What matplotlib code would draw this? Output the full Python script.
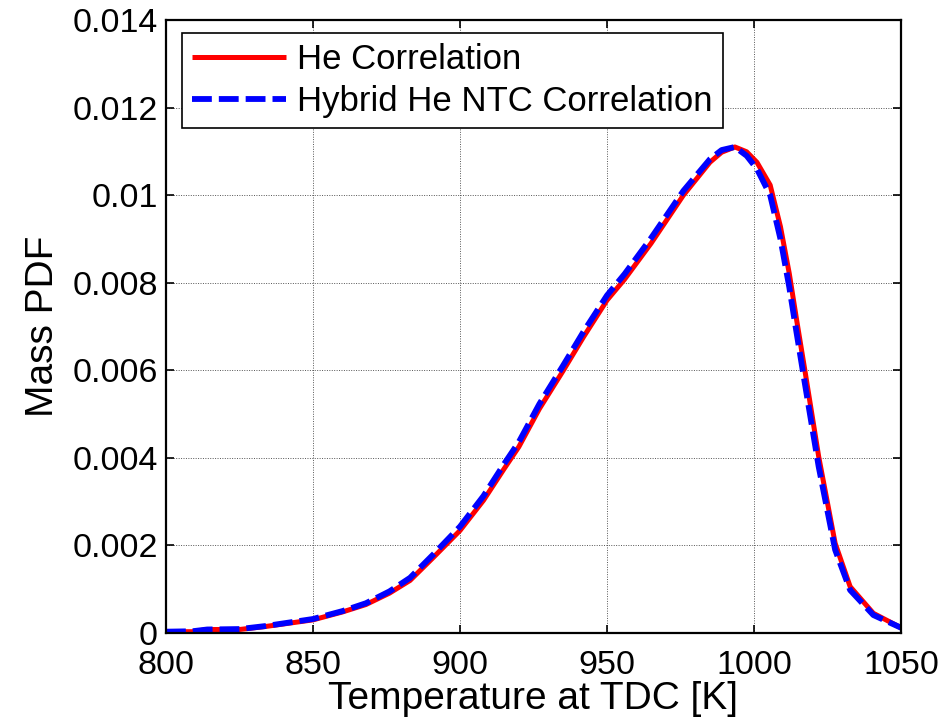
import matplotlib
matplotlib.use("Agg")
import matplotlib.pyplot as plt

temperature = [800, 809, 814, 825, 834, 850, 860, 868, 876, 883, 891, 900, 908, 915,
               920, 927, 935, 942, 950, 956, 965, 976, 985, 989, 993.5, 997.5, 1001,
               1005.5, 1009, 1012, 1014.5, 1017.3, 1022, 1027.6, 1032.7, 1040.6, 1050]
he_corr = [0.00003, 0.00003, 0.00008, 0.00008, 0.00015, 0.00030, 0.00048, 0.00065,
           0.00091, 0.00120, 0.00173, 0.00234, 0.00303, 0.00375, 0.00425, 0.00512,
           0.00598, 0.00676, 0.00760, 0.00808, 0.00890, 0.01000, 0.01075, 0.01098,
           0.01110, 0.01099, 0.01075, 0.01023, 0.00928, 0.00821, 0.00715, 0.00600,
           0.00403, 0.00205, 0.00106, 0.00045, 0.00012]
hybrid_corr = [0.00003, 0.00004, 0.00008, 0.00009, 0.00016, 0.00032, 0.00050, 0.00068,
               0.00095, 0.00126, 0.00180, 0.00243, 0.00313, 0.00386, 0.00436, 0.00523,
               0.00610, 0.00688, 0.00771, 0.00820, 0.00902, 0.01010, 0.01082, 0.01103,
               0.01110, 0.01090, 0.01060, 0.01000, 0.00900, 0.00790, 0.00685, 0.00570,
               0.00380, 0.00190, 0.00098, 0.00041, 0.00012]

x_ticks = [800, 850, 900, 950, 1000, 1050]
y_ticks = [0, 0.002, 0.004, 0.006, 0.008, 0.010, 0.012, 0.014]
y_tick_labels = ["0", "0.002", "0.004", "0.006", "0.008", "0.01", "0.012", "0.014"]
series_labels = ["He Correlation", "Hybrid He NTC Correlation"]

plt.rcParams['font.family'] = ['Liberation Sans', 'DejaVu Sans']

fig = plt.figure(figsize=(9.43, 7.25), dpi=100)
W, H = 943, 725
ax = fig.add_axes([166 / W, 1 - 633 / H, 735 / W, 613 / H])

ax.plot(temperature, he_corr, color='#ff0000', lw=3.6, label=series_labels[0],
        solid_capstyle='butt')
ax.plot(temperature, hybrid_corr, color='#0000ff', lw=4.2, linestyle=(0, (3.4, 1.2)),
        label=series_labels[1], dash_capstyle='butt')

ax.set_xlim(800, 1050)
ax.set_ylim(0, 0.014)
ax.set_xticks(x_ticks)
ax.set_xticklabels([str(t) for t in x_ticks])
ax.set_yticks(y_ticks)
ax.set_yticklabels(y_tick_labels)

ax.grid(True, color='#555555', linestyle=(0, (1, 1.5)), lw=0.7)
ax.tick_params(direction='in', length=6, width=1.2, top=True, right=True,
               labelsize=24.5, colors='black')
ax.tick_params(axis='x', pad=12.5)
ax.tick_params(axis='y', pad=6)
for s in ax.spines.values():
    s.set_linewidth(1.6)
    s.set_color('black')

ax.set_xlabel("Temperature at TDC [K]", fontsize=28, labelpad=0)
ax.set_ylabel("Mass PDF", fontsize=28, labelpad=8)

leg = ax.legend(loc='upper left', bbox_to_anchor=(0.0214, 0.979), borderaxespad=0,
                fontsize=25, handlelength=2.7, handletextpad=0.32, labelspacing=0.25,
                fancybox=False, framealpha=1, edgecolor='black', borderpad=0.3)
leg.get_frame().set_linewidth(1.2)

fig.savefig("out.png", dpi=100)
